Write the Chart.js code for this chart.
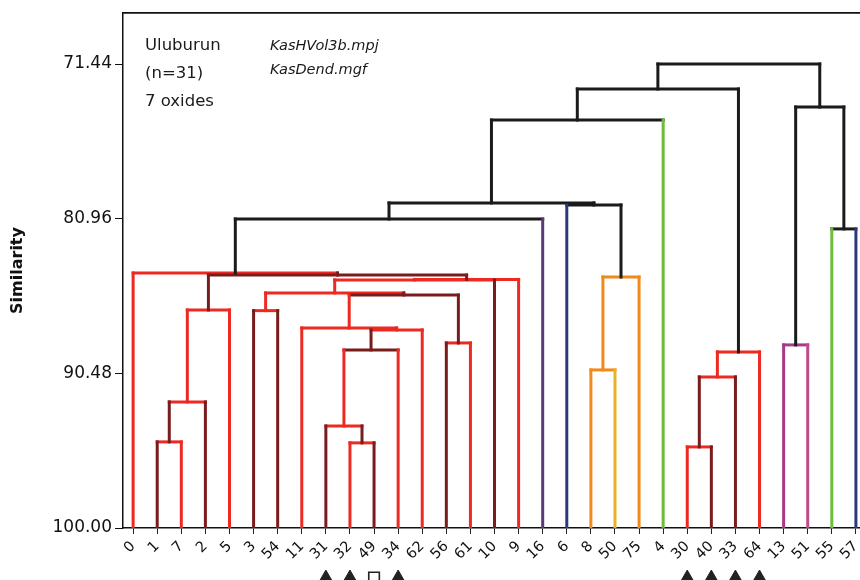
<!DOCTYPE html>
<html><head><meta charset="utf-8">
<script src="https://cdn.jsdelivr.net/npm/chart.js@4/dist/chart.umd.min.js"></script>
<style>html,body{margin:0;padding:0;background:#fff}#wrap{width:860px;height:580px;position:relative}</style>
</head><body><div id="wrap"><canvas id="c"></canvas></div>
<script>
// ---- data ----
const leafLabels = ['0','1','7','2','5','3','54','11','31','32','49','34','62','56','61','10','9','16','6','8','50','75','4','30','40','33','64','13','51','55','57'];
// merges: node ids 0..30 are leaves (display order), merge k creates node 31+k
const mergeLeft  = [1,31,32,5,9,8,36,37,7,13,39,34,42,43,33,0,46,19,48,18,47,51,23,53,54,52,27,29,57,56];
const mergeRight = [2,3,4,6,10,35,11,12,38,14,40,41,15,16,44,45,17,20,21,49,50,22,24,25,26,55,28,30,58,59];
const mergeSimilarity = [94.70,92.24,86.58,86.62,94.76,93.72,89.04,87.81,87.69,88.61,85.66,85.53,84.73,84.70,84.43,84.30,80.98,90.27,84.55,80.12,79.99,74.89,95.01,90.70,89.16,72.98,88.73,81.59,74.09,71.44];
const yTickValues = [71.44, 80.96, 90.48, 100.00];
const infoLines = ['Uluburun','(n=31)','7 oxides'];
const fileLines = ['KasHVol3b.mpj','KasDend.mgf'];
const markerLeaves = ['31','32','49','34','30','40','33','64'];
const markerShapes = ['triangle','triangle','square','triangle','triangle','triangle','triangle','triangle'];

// ---- styles ----
const C = {r:'#ec2a22', dr:'#7a1c1c', k:'#1b1b1b', pu:'#5a3a78', nv:'#2c3a78', or:'#f28a1a', go:'#eab026', gr:'#6dbd3d', mg:'#a8388a', pk:'#c04a8a'};
const leafColorKeys = ['r','dr','r','dr','r','dr','dr','r','dr','r','dr','r','r','dr','r','dr','r','pu','nv','or','go','or','gr','r','dr','dr','r','mg','pk','gr','nv'];
const nodeLinkKeys = ['dr','r','dr','r','dr','r','dr','r','r','dr','dr','r','r','dr','dr','k','k','or','k','k','k','k','dr','r','k','k','k','k','k','k'];
const mergeBarKeys = ['r','r','r','r','r','r','dr','r','r','r','dr','r','r','r','dr','r','k','or','or','k','k','k','r','r','r','k','mg','k','k','k'];

// ---- layout of the tree (x = leaf order, y = similarity) ----
const nLeaves = leafLabels.length;
const nodeX = [], nodeH = [], nodeColor = [];
for (let i = 0; i < nLeaves; i++) { nodeX[i] = i; nodeH[i] = 100; nodeColor[i] = C[leafColorKeys[i]]; }
mergeLeft.forEach((l, k) => {
  const r = mergeRight[k], id = nLeaves + k;
  nodeX[id] = (nodeX[l] + nodeX[r]) / 2;
  nodeH[id] = mergeSimilarity[k];
  nodeColor[id] = C[nodeLinkKeys[k]];
});
const seg = (pts, color) => ({type:'line', data:pts, borderColor:color, borderWidth:3, pointRadius:0, showLine:true, fill:false, borderCapStyle:'square', tension:0, parsing:false});
const vDatasets = [], hDatasets = [];
mergeLeft.forEach((l, k) => {
  const r = mergeRight[k], h = mergeSimilarity[k];
  [l, r].forEach(c => vDatasets.push(seg([{x:nodeX[c], y:nodeH[c]}, {x:nodeX[c], y:h}], nodeColor[c])));
  hDatasets.push(seg([{x:nodeX[l], y:h}, {x:nodeX[r], y:h}], C[mergeBarKeys[k]]));
});
const markerDataset = {
  type:'scatter', label:'markers',
  data: markerLeaves.map(l => ({x: leafLabels.indexOf(l), y: 103.05})),
  pointStyle: markerShapes.map(s => s === 'square' ? 'rect' : 'triangle'),
  backgroundColor: markerShapes.map(s => s === 'square' ? '#ffffff' : '#222222'),
  borderColor: '#222222', borderWidth: markerShapes.map(s => s === 'square' ? 1.6 : 1),
  pointRadius: 7.5, clip: false, showLine: false
};

// markers sit below the plot area: draw the library's point elements without area culling
const markerPlugin = {
  id: 'markerPlugin',
  afterDatasetsDraw(chart) {
    const idx = chart.data.datasets.indexOf(markerDataset);
    const meta = chart.getDatasetMeta(idx);
    const big = {left: 0, top: 0, right: chart.width, bottom: chart.height + 20};
    meta.data.forEach(p => p.draw(chart.ctx, big));
  }
};

const textPlugin = {
  id: 'textPlugin',
  afterDraw(chart) {
    const ctx = chart.ctx;
    ctx.save();
    ctx.fillStyle = '#1a1a1a';
    ctx.textBaseline = 'alphabetic';
    ctx.font = '16.5px "DejaVu Sans"';
    infoLines.forEach((t, i) => ctx.fillText(t, 145, 50 + i * 28));
    ctx.font = 'italic 14.5px "DejaVu Sans"';
    fileLines.forEach((t, i) => ctx.fillText(t, 270, 50 + i * 24));
    ctx.restore();
  }
};

Chart.defaults.font.family = '"DejaVu Sans", sans-serif';
Chart.defaults.color = '#111';
new Chart(document.getElementById('c'), {
  type: 'scatter',
  data: { datasets: [...vDatasets, ...hDatasets, markerDataset] },
  plugins: [markerPlugin, textPlugin],
  options: {
    responsive: true, maintainAspectRatio: false, animation: false,
    layout: { autoPadding: false, padding: { top: 13, left: 0, right: 0, bottom: 0 } },
    plugins: { legend: { display: false }, tooltip: { enabled: false } },
    scales: {
      x: {
        type: 'linear', min: -0.42, max: 30.17,
        afterBuildTicks: s => { s.ticks = leafLabels.map((_, i) => ({ value: i })); },
        ticks: { autoSkip: false, minRotation: 45, maxRotation: 45, padding: 4,
                 font: { size: 14.5 }, color: '#111',
                 callback: v => leafLabels[Math.round(v)] ?? '' },
        grid: { drawOnChartArea: false, drawTicks: true, tickLength: 6, color: '#222', lineWidth: 1 },
        border: { display: true, color: '#111', width: 1.5 },
        afterFit: s => { s.height = 52; s.paddingLeft = 0; s.paddingRight = 0; }
      },
      x2: {
        type: 'linear', position: 'top', min: -0.42, max: 30.17,
        ticks: { display: false }, grid: { display: false },
        border: { display: true, color: '#111', width: 1.8 },
        afterFit: s => { s.height = 0; s.paddingLeft = 0; s.paddingRight = 0; }
      },
      y: {
        type: 'linear', reverse: true, min: 68.3, max: 100,
        afterBuildTicks: s => { s.ticks = yTickValues.map(v => ({ value: v })); },
        ticks: { font: { size: 17 }, color: '#111', padding: 3, callback: v => Number(v).toFixed(2) },
        grid: { drawOnChartArea: false, drawTicks: true, tickLength: 8, color: '#111', lineWidth: 1 },
        border: { display: true, color: '#111', width: 1.5 },
        title: { display: true, text: 'Similarity', color: '#111', font: { size: 16, weight: 'bold' }, padding: { top: 8, bottom: 0 } },
        afterFit: s => { s.width = 123; s.paddingTop = 0; s.paddingBottom = 0; }
      }
    }
  }
});
</script></body></html>
